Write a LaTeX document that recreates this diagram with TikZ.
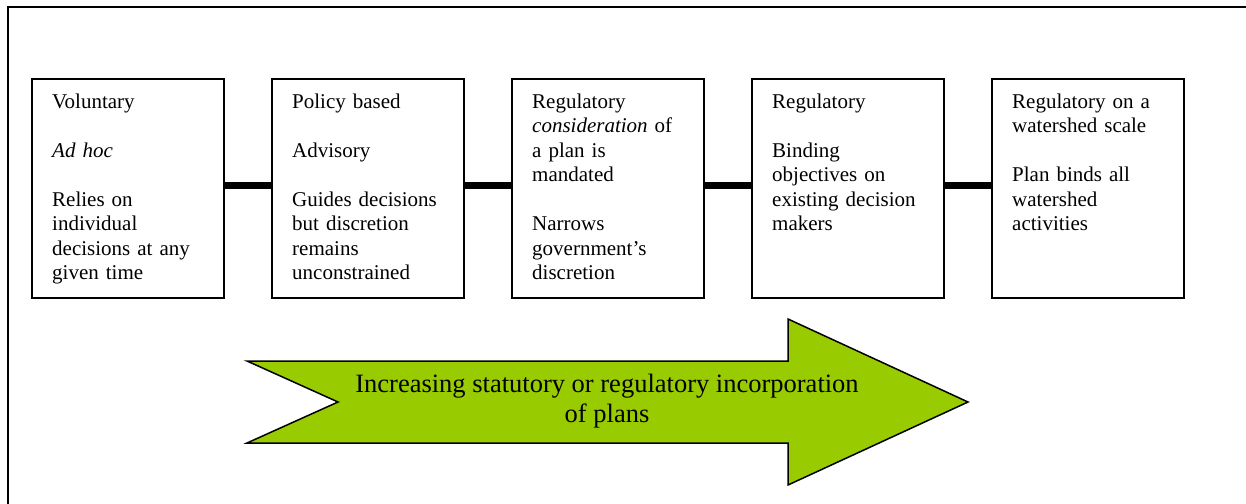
\documentclass[tikz,border=0pt]{standalone}
\usepackage{fontspec}
\setmainfont{Liberation Serif}
\usetikzlibrary{positioning}

\definecolor{arrowgreen}{HTML}{99CC00}
\newcommand{\pgap}{\\[24.5pt]}

\tikzset{
	stage/.style = {draw, line width = 2pt, outer sep = 0pt, inner sep = 0pt,
		minimum width = 192pt, minimum height = 219pt},
	stagetext/.style = {inner sep = 0pt, text width = 170pt, align = left,
		font = \fontsize{21}{24.5}\selectfont},
	link/.style = {line width = 7pt}
}

\begin{document}
\begin{tikzpicture}[x = 1pt, y = -1pt]

	\useasboundingbox (0, 0) rectangle (1246, 503);

	% Outer frame

	\draw [line width = 2pt] (8, 7) rectangle (1252, 512);

	% Stage boxes

	\node [stage, anchor = north west] (vol) at (32, 79) {};
	\node [stage, right = 48pt of vol] (pol) {};
	\node [stage, right = 48pt of pol] (con) {};
	\node [stage, right = 48pt of con] (bind) {};
	\node [stage, right = 48pt of bind] (shed) {};

	% Stage texts

	\node [stagetext, below right = 12pt and 20pt of vol.north west] (voltxt)
		{\strut Voluntary\pgap \emph{Ad hoc}\pgap Relies on\\individual\\decisions at any\\given time};
	\node [stagetext, below right = 12pt and 20pt of pol.north west] (poltxt)
		{\strut Policy based\pgap Advisory\pgap Guides decisions\\but discretion\\remains\\unconstrained};
	\node [stagetext, below right = 12pt and 20pt of con.north west] (contxt)
		{\strut Regulatory\\\emph{consideration} of\\a plan is\\mandated\pgap Narrows\\government’s\\discretion};
	\node [stagetext, below right = 12pt and 20pt of bind.north west] (bindtxt)
		{\strut Regulatory\pgap Binding\\objectives on\\existing decision\\makers};
	\node [stagetext, below right = 12pt and 20pt of shed.north west] (shedtxt)
		{\strut Regulatory on a\\watershed scale\pgap Plan binds all\\watershed\\activities};

	% Links between stages

	\begin{scope}[link]

		\draw ([yshift = 3.5pt] vol.east) -- ([yshift = 3.5pt] pol.west);
		\draw ([yshift = 3.5pt] pol.east) -- ([yshift = 3.5pt] con.west);
		\draw ([yshift = 3.5pt] con.east) -- ([yshift = 3.5pt] bind.west);
		\draw ([yshift = 3.5pt] bind.east) -- ([yshift = 3.5pt] shed.west);

	\end{scope}

	% Progression arrow

	\draw [fill = arrowgreen, line width = 1.5pt, line join = miter]
		(247, 361) -- (338, 402) -- (247, 443) -- (788, 443) -- (788, 485)
		-- (968, 402) -- (788, 319) -- (788, 361) -- cycle;

	\node [align = center, font = \fontsize{26.5}{30}\selectfont] (trend) at (607, 401)
		{Increasing statutory or regulatory incorporation\\of plans};

\end{tikzpicture}
\end{document}
